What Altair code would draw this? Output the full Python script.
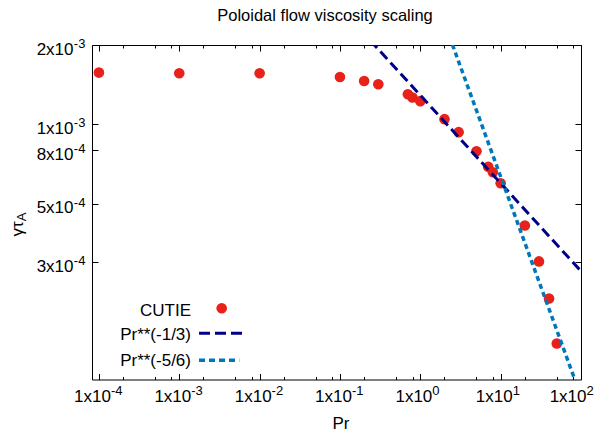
import altair as alt
import pandas as pd

# ---------------- data ----------------
pr_values = [1e-4, 1e-3, 1e-2, 0.1, 0.2, 0.3, 0.7, 0.8, 1.0, 2.0, 3.0, 5.0,
             7.0, 8.0, 10.0, 20.0, 30.0, 40.0, 50.0]
gamma_values = [1.572e-3, 1.563e-3, 1.563e-3, 1.513e-3, 1.461e-3, 1.42e-3,
                1.302e-3, 1.265e-3, 1.225e-3, 1.047e-3, 9.35e-4, 7.91e-4,
                6.91e-4, 6.59e-4, 5.985e-4, 4.14e-4, 3.027e-4, 2.19e-4, 1.479e-4]

# fit lines (end points, straight in log-log)
fit13_pr = [0.1, 100.0]
fit13_gamma = [2.78e-3, 2.78e-4]
fit56_pr = [1.0, 100.0]
fit56_gamma = [4.32e-3, 9.31e-5]

x_major_ticks = [1e-4, 1e-3, 1e-2, 1e-1, 1.0, 10.0, 100.0]
x_major_mantissa = ["1x10", "1x10", "1x10", "1x10", "1x10", "1x10", "1x10"]
x_major_exponent = ["-4", "-3", "-2", "-1", "0", "1", "2"]
x_minor_ticks = [2e-4, 5e-4, 8e-4, 2e-3, 5e-3, 8e-3, 2e-2, 5e-2, 8e-2,
                 0.2, 0.5, 0.8, 2.0, 5.0, 8.0, 20.0, 50.0, 80.0]
y_ticks = [3e-4, 5e-4, 8e-4, 1e-3, 2e-3]
y_mantissa = ["3x10", "5x10", "8x10", "1x10", "2x10"]
y_exponent = ["-4", "-4", "-4", "-3", "-3"]

legend_labels = ["CUTIE", "Pr**(-1/3)", "Pr**(-5/6)"]
title_text = "Poloidal flow viscosity scaling"
x_title = "Pr"
y_title_main = "γτ"
y_title_sub = "A"

FONT = "Liberation Sans"
RED = "#e8221a"
NAVY = "#00008b"
BLUE = "#0077bb"


def label_expr(values, labels):
    expr = "''"
    for v, l in reversed(list(zip(values, labels))):
        expr = f"(abs(datum.value/{v!r} - 1) < 1e-6) ? '{l}' : ({expr})"
    return expr


pts = pd.DataFrame({"Pr": pr_values, "gamma": gamma_values})
f13 = pd.DataFrame({"Pr": fit13_pr, "gamma": fit13_gamma})
f56 = pd.DataFrame({"Pr": fit56_pr, "gamma": fit56_gamma})
one = pd.DataFrame({"k": [0]})

xscale = alt.Scale(type="log", domain=[8.2e-5, 100], nice=False)
yscale = alt.Scale(type="log", domain=[1.08e-4, 2e-3], nice=False)

base = dict(grid=False, domain=False, tickColor="black", tickWidth=1,
            labelColor="black", labelFont=FONT, labelFlush=False,
            labelOverlap=False)

# keep the last x label (at the right edge) inside the picture
x_label_offset = {"condition": {"test": "datum.value > 50", "value": 5},
                  "value": 11.5}

W, H = 489, 334.5

# points with main bottom / left axes
points = alt.Chart(pts).mark_circle(size=113, color=RED, opacity=1).encode(
    x=alt.X("Pr:Q", scale=xscale, axis=alt.Axis(
        **base, orient="bottom", values=x_major_ticks,
        labelExpr=label_expr(x_major_ticks, x_major_mantissa),
        offset=-6, tickSize=6, labelPadding=16.5, labelAlign="right",
        labelBaseline="middle", labelOffset=x_label_offset, labelFontSize=17,
        title=x_title, titleFont=FONT, titleFontSize=17,
        titleFontWeight="normal", titleColor="black", titleX=W / 2 + 4,
        titleY=49.5, titleBaseline="middle", titleAlign="center")),
    y=alt.Y("gamma:Q", scale=yscale, axis=alt.Axis(
        **base, orient="left", values=y_ticks,
        labelExpr=label_expr(y_ticks, y_mantissa),
        offset=-6, tickSize=6, labelPadding=19, labelAlign="right",
        labelBaseline="middle", labelOffset=4, labelFontSize=17, title=None)),
)

navy = alt.Chart(f13).mark_line(color=NAVY, strokeWidth=3, strokeDash=[10, 5],
                                clip=True).encode(
    x=alt.X("Pr:Q", scale=xscale, axis=alt.Axis(
        **base, orient="top", values=x_major_ticks, labels=False,
        offset=-6, tickSize=6, title=None)),
    y=alt.Y("gamma:Q", scale=yscale, axis=alt.Axis(
        **base, orient="right", values=y_ticks, labels=False,
        offset=-6, tickSize=6, title=None)),
)

dotted = alt.Chart(f56).mark_line(color=BLUE, strokeWidth=3.5,
                                  strokeDash=[5, 3.5], clip=True).encode(
    x=alt.X("Pr:Q", scale=xscale, axis=alt.Axis(
        **base, orient="bottom", values=x_minor_ticks, labels=False,
        offset=-3, tickSize=3, title=None)),
    y=alt.Y("gamma:Q", scale=yscale, axis=alt.Axis(
        **base, orient="left", values=y_ticks,
        labelExpr=label_expr(y_ticks, y_exponent),
        offset=-6, tickSize=6, tickOpacity=0, labelPadding=18.7,
        labelAlign="left", labelBaseline="middle", labelOffset=-1.5,
        labelFontSize=13, title=None)),
)

top_minor = alt.Chart(pts).mark_circle(opacity=0).encode(
    x=alt.X("Pr:Q", scale=xscale, axis=alt.Axis(
        **base, orient="top", values=x_minor_ticks, labels=False,
        offset=-3, tickSize=3, title=None)),
    y=alt.Y("gamma:Q", scale=yscale, axis=None),
)

x_exp = alt.Chart(pts).mark_circle(opacity=0).encode(
    x=alt.X("Pr:Q", scale=xscale, axis=alt.Axis(
        **base, orient="bottom", values=x_major_ticks,
        labelExpr=label_expr(x_major_ticks, x_major_exponent),
        offset=-6, tickSize=6, tickOpacity=0, labelPadding=10.5,
        labelAlign="left", labelBaseline="middle", labelOffset=x_label_offset,
        labelFontSize=13, title=None)),
    y=alt.Y("gamma:Q", scale=yscale, axis=None),
)

# legend (gnuplot style: label right-aligned, sample on the right)
txt = dict(font=FONT, fontSize=17, color="black", align="right", baseline="middle")
leg1 = alt.Chart(one).mark_text(text=legend_labels[0], **txt).encode(
    x=alt.value(99), y=alt.value(266))
leg2 = alt.Chart(one).mark_text(text=legend_labels[1], **txt).encode(
    x=alt.value(99), y=alt.value(289.5))
leg3 = alt.Chart(one).mark_text(text=legend_labels[2], **txt).encode(
    x=alt.value(99), y=alt.value(316))
leg_pt = alt.Chart(one).mark_circle(size=113, color=RED, opacity=1).encode(
    x=alt.value(129.7), y=alt.value(263.3))
leg_l1 = alt.Chart(one).mark_rule(color=NAVY, strokeWidth=3, strokeDash=[11, 5]).encode(
    x=alt.value(107), x2=alt.value(152), y=alt.value(288.3))
leg_l2 = alt.Chart(one).mark_rule(color=BLUE, strokeWidth=3.5, strokeDash=[6, 4]).encode(
    x=alt.value(107), x2=alt.value(147.3), y=alt.value(315.3))

# y title: gamma tau with subscript A
yt1 = alt.Chart(one).mark_text(text=y_title_main, font=FONT, fontSize=17, color="black",
                               angle=270, align="center", baseline="middle").encode(
    x=alt.value(-74.5), y=alt.value(184))
yt2 = alt.Chart(one).mark_text(text=y_title_sub, font=FONT, fontSize=13, color="black",
                               angle=270, align="center", baseline="middle").encode(
    x=alt.value(-70.5), y=alt.value(172))

chart = alt.layer(
    points, navy, dotted, top_minor, x_exp,
    leg1, leg2, leg3, leg_pt, leg_l1, leg_l2, yt1, yt2,
).resolve_axis(x="independent", y="independent").properties(
    width=W, height=H,
    padding={"left": 84, "top": 37, "right": 16, "bottom": 51.5},
    autosize="none",
    title=alt.TitleParams(text=title_text, font=FONT, fontSize=16.5,
                          fontWeight="normal", color="black", anchor="middle",
                          frame="group", dx=-11.5, offset=0,
                          baseline="alphabetic"),
).configure_view(stroke="black", strokeWidth=1)

chart.save("out.html", embed_options={"renderer": "svg", "actions": False})
